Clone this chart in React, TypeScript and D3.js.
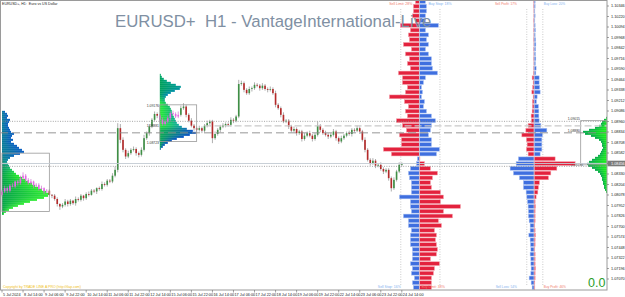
import React from "react";
import * as d3 from "d3";

// ---------------- data ----------------
const pip = 0.0001;
const firstOpen = 1.0808;
// 2-hour bars, 5 Jul 2024 -> 24 Jul 2024
const closes = [
  1.0812, 1.0816, 1.0813, 1.0819, 1.0818, 1.0824, 1.0822, 1.0828, 1.0831, 1.0826,
  1.0822, 1.0824, 1.0819, 1.082, 1.0815, 1.0816, 1.0812, 1.0813, 1.0808, 1.0807,
  1.0803, 1.0797, 1.0794, 1.0796, 1.08, 1.0797, 1.0801, 1.0798, 1.0803, 1.0802,
  1.0807, 1.0804, 1.0809, 1.0808, 1.0813, 1.0812, 1.0816, 1.0815, 1.0821, 1.082,
  1.0825, 1.0824, 1.0831, 1.0838, 1.0888, 1.0874, 1.0862, 1.0854, 1.0858, 1.0862,
  1.0863, 1.0858, 1.0856, 1.0862, 1.0876, 1.0882, 1.089, 1.0898, 1.0905, 1.0903,
  1.0898, 1.0893, 1.0896, 1.09, 1.0906, 1.0905, 1.0902, 1.0904, 1.0912, 1.0914,
  1.0904, 1.0897, 1.0891, 1.0888, 1.0886, 1.0888, 1.0885, 1.0891, 1.0894, 1.0896,
  1.0876, 1.0881, 1.0886, 1.089, 1.0891, 1.0893, 1.0892, 1.0898, 1.0897, 1.0902,
  1.0941, 1.0942, 1.0934, 1.093, 1.0935, 1.0936, 1.094, 1.0939, 1.0936, 1.0939,
  1.0935, 1.0934, 1.0935, 1.093, 1.0916, 1.0912, 1.0904, 1.0896, 1.0897, 1.089,
  1.0885, 1.0887, 1.0882, 1.0884, 1.0875, 1.0879, 1.0882, 1.0879, 1.0875, 1.088,
  1.0891, 1.0886, 1.0882, 1.088, 1.0878, 1.088, 1.0884, 1.0876, 1.0872, 1.0876,
  1.0879, 1.0882, 1.0881, 1.0886, 1.0885, 1.0888, 1.0884, 1.0874, 1.0862, 1.085,
  1.0846, 1.0849, 1.0843, 1.0844, 1.0839, 1.0836, 1.0838, 1.0828, 1.0816, 1.0826,
  1.0836, 1.0844, 1.0845,
];
const wickUp = [
  2, 3, 2, 2, 3, 1, 2, 3, 4, 2, 2, 3, 1, 2, 2, 3, 1, 2, 2, 1,
  2, 2, 1, 2, 3, 2, 2, 1, 3, 2, 2, 1, 2, 3, 2, 2, 1, 2, 3, 2,
  2, 2, 3, 4, 6, 5, 3, 2, 3, 2, 3, 2, 2, 3, 4, 2, 3, 2, 3, 2,
  2, 3, 2, 3, 2, 3, 2, 4, 3, 4, 2, 2, 3, 2, 2, 3, 2, 2, 3, 2,
  2, 3, 2, 2, 3, 2, 2, 3, 2, 2, 5, 3, 2, 2, 3, 2, 3, 2, 2, 3,
  2, 2, 3, 2, 3, 2, 2, 3, 2, 2, 2, 3, 2, 2, 2, 3, 2, 3, 2, 2,
  5, 2, 2, 3, 2, 2, 3, 2, 2, 3, 2, 2, 3, 2, 2, 3, 2, 2, 3, 2,
  2, 3, 2, 2, 3, 2, 2, 2, 2, 3, 2, 3, 2,
];
const wickDown = [
  2, 2, 3, 2, 1, 2, 3, 2, 2, 3, 2, 2, 3, 2, 2, 1, 3, 2, 2, 3,
  2, 3, 4, 2, 2, 3, 2, 2, 3, 2, 2, 3, 2, 2, 1, 2, 3, 2, 2, 2,
  2, 2, 2, 2, 3, 4, 3, 3, 2, 2, 2, 3, 3, 2, 2, 2, 3, 2, 2, 3,
  3, 2, 2, 2, 3, 2, 2, 2, 2, 2, 3, 2, 2, 3, 2, 2, 3, 2, 2, 2,
  6, 2, 2, 3, 2, 2, 2, 2, 3, 2, 2, 2, 3, 2, 2, 3, 2, 2, 3, 2,
  2, 3, 2, 2, 3, 2, 3, 2, 2, 3, 2, 2, 3, 2, 3, 2, 2, 2, 3, 2,
  2, 3, 2, 2, 3, 2, 2, 3, 3, 2, 2, 2, 2, 3, 2, 2, 3, 2, 3, 2,
  3, 2, 3, 2, 2, 3, 2, 3, 4, 2, 2, 2, 2,
];

const timeLabels = [
  "5 Jul 2024", "8 Jul 14:00", "9 Jul 06:00", "9 Jul 22:00", "10 Jul 14:00",
  "11 Jul 06:00", "11 Jul 22:00", "12 Jul 14:00", "15 Jul 06:00", "15 Jul 22:00",
  "16 Jul 14:00", "17 Jul 06:00", "17 Jul 22:00", "18 Jul 14:00", "19 Jul 06:00",
  "19 Jul 22:00", "22 Jul 14:00", "23 Jul 06:00", "23 Jul 22:00", "24 Jul 14:00",
];
const barsPerLabel = 8;

const priceTicks = [
  1.10346, 1.1022, 1.10094, 1.09968, 1.09842, 1.09716, 1.0959, 1.09464, 1.09338,
  1.09212, 1.09086, 1.0896, 1.08834, 1.08708, 1.08582, 1.08456, 1.0833, 1.08204,
  1.08078, 1.07952, 1.07826, 1.077, 1.07574, 1.07448, 1.07322, 1.07196, 1.0707,
];
const currentPrice = 1.08456;
const dottedLevels = [1.08962, 1.08422];
const dashedLevels = [1.08824];
const lightDashedLevels = [1.08908];

// session profiles (row volumes)
const profileRowStep = 0.00024;
const aTop = 1.09076;
const aVol = [3, 5, 6, 5, 8, 7, 6, 6, 7, 8, 9, 12, 10, 9, 11, 9, 12, 15, 17, 20, 22, 18, 12, 8, 6, 5, 6, 7, 8, 10,
  12, 14, 17, 20, 24, 27, 30, 33, 36, 40, 44, 48, 46, 42, 35, 28, 22, 16, 11, 7, 4, 2];
const bTop = 1.0952;
const bVol = [1, 2, 4, 7, 11, 16, 21, 20, 15, 11, 8, 6, 5, 5, 6, 8, 10, 11, 12, 12, 13, 14, 15, 16, 17, 19, 22, 27,
  33, 36, 30, 24, 17, 12, 8, 5, 3, 1];
const cTop = 1.09004;
const cVol = [1, 3, 5, 6, 8, 12, 18, 24, 22, 16, 12, 8, 6, 5, 5, 4, 5, 6, 7, 9, 12, 15, 18, 20, 19, 15, 12, 9, 7, 6,
  5, 5, 4, 4, 3, 3, 2, 1];

// order-book style profiles
const bookTop = 1.104;
const bookStep = 0.000572;
const bookSplit = 33;
const dLeft = [4, 6, 6, 7, 4, 19, 9, 11, 10, 16, 8, 14, 10, 12, 9, 21, 17, 17, 12, 14, 30, 15, 11, 14, 12, 23, 17, 13,
  20, 18, 18, 36, 28,
  2, 3, 9, 11, 10, 8, 8, 8, 20, 9, 9, 8, 16, 11, 11, 8, 9, 9, 9, 7, 7, 7, 9, 7, 8, 5, 7, 6];
const dRight = [6, 7, 7, 6, 6, 19, 6, 9, 7, 9, 6, 9, 12, 12, 13, 18, 6, 4, 2, 3, 2, 5, 4, 7, 12, 16, 12, 11, 9, 12, 12,
  20, 17,
  0.5, 5, 11, 18, 13, 11, 12, 21, 24, 21, 41, 24, 33, 19, 22, 15, 17, 16, 17, 18, 17, 11, 20, 15, 14, 12, 12, 12];
const eLeft = [0.5, 0.5, 0.3, 0.3, 0.5, 0.3, 0.5, 0.3, 0.5, 0.3, 0.5, 0.3, 0.5, 0.3, 0.5, 0.7, 2, 1, 1.5, 2.3, 1, 1.7,
  1.7, 2, 3, 2.7, 6, 8.3, 12.3, 7.7, 7, 7.7, 6,
  15.7, 18, 24, 20.7, 14.7, 10.7, 10.7, 8, 7.3, 6.7, 6, 5.7, 5.7, 5, 4, 4, 5.3, 4, 3.7, 3.3, 4, 3.3, 3.3, 3, 3.3, 5,
  3, 2];
const eRight = [1, 1, 0.7, 1, 0.7, 1, 1.3, 1, 1.5, 1.7, 1.5, 1.3, 1.7, 1.3, 2, 1.7, 5, 5, 5.5, 6, 3, 2.3, 4.3, 4.7,
  4.7, 5, 6.7, 12.7, 8.3, 7.7, 7.7, 7.7, 6,
  21, 41, 22.7, 16.7, 14.3, 5.3, 4.3, 3.7, 2, 1, 1.3, 1, 1, 1, 0.7, 1, 1.3, 1, 1, 0.7, 1, 1, 1, 1.3, 1, 1, 0.7, 0.7];

const dTexts = ["Sell Limit: 28%", "Buy Stop: 18%", "Sell Stop: 16%", "Buy Limit: 38%"];
const eTexts = ["Sell Profit: 17%", "Buy Loss: 20%", "Sell Loss: 54%", "Buy Profit: 46%"];

// ---------------- component ----------------
export default function App() {
  const X = d3.scaleLinear().domain([0, 230]).range([2, 607]);
  const Y = d3.scaleLinear().domain([priceTicks[0], priceTicks[priceTicks.length - 1]]).range([6, 279]);
  const V = d3.scaleLinear().domain([0, 10]).range([0, 10]);
  const font = '"Liberation Sans", Arial, sans-serif';
  const RIGHT = X(230);
  const BOTTOM = 290;

  const candles = closes.map((c, i) => {
    const o = i === 0 ? firstOpen : closes[i - 1];
    return { i, o, c, h: Math.max(o, c) + wickUp[i] * pip, l: Math.min(o, c) - wickDown[i] * pip };
  });

  const aBox = { from: 0, to: 18, hi: 1.0858, lo: 1.0788 };
  const bBox = { from: 60, to: 74, hi: 1.0916, lo: 1.0872 };
  const cBox = { from: 220, to: 230, hi: 1.0897, lo: 1.0844 };

  const aBase = d3.scaleLinear<string>().domain([1.0908, 1.0856, 1.0846, 1.0831, 1.0786])
    .range(["#0a7f96", "#0a7f96", "#0a9070", "#03a248", "#03a248"]).clamp(true);
  const aTip = d3.scaleLinear<string>().domain([1.0908, 1.0856, 1.0846, 1.0831, 1.0786])
    .range(["#0b5fc4", "#0b5fc4", "#10a090", "#26ee2a", "#40f040"]).clamp(true);
  const bBase = d3.scaleLinear<string>().domain([1.0952, 1.0928, 1.0918, 1.0891, 1.0885, 1.0862])
    .range(["#00a050", "#00a060", "#28e838", "#28f030", "#10b050", "#00a050"]).clamp(true);
  const bTip = d3.scaleLinear<string>().domain([1.0952, 1.0928, 1.0918, 1.0891, 1.0885, 1.0862])
    .range(["#00b070", "#0088b8", "#10c060", "#10a8a0", "#0a52c8", "#0a52c8"]).clamp(true);

  const RED = "#e3223d", RED_EDGE = "#f4a3ad", BLUE = "#3f6fdf", BLUE_EDGE = "#a9c1f3";

  const sessionRows = (vol: number[], top: number, startBar: number, base: any, tip: any, id: string) =>
    vol.map((v, i) => {
      const p = top - i * profileRowStep;
      return { id: `${id}${i}`, x: X(startBar), y: Y(p) - 1, w: V(v), b: base(p), t: tip(p) };
    });
  const aRows = sessionRows(aVol, aTop, 0, aBase, aTip, "ga");
  const bRows = sessionRows(bVol, bTop, 60, bBase, bTip, "gb");

  const bookRows = (left: number[], right: number[], centerBar: number) =>
    left.map((lv, k) => {
      const p = bookTop - k * bookStep;
      const upper = k < bookSplit;
      return {
        k, y: Y(p) - 1.9, cx: X(centerBar), lw: V(lv), rw: V(right[k]),
        lf: upper ? RED : BLUE, ls: upper ? RED_EDGE : BLUE_EDGE,
        rf: upper ? BLUE : RED, rs: upper ? BLUE_EDGE : RED_EDGE,
      };
    });
  const dRows = bookRows(dLeft, dRight, 158.7);
  const eRows = bookRows(eLeft, eRight, 202.3);

  const inPink = (i: number) => (i >= 0 && i <= 17) || (i >= 60 && i <= 67);

  const box = (bx: any, key: string) => (
    <rect key={key} x={X(bx.from)} y={Y(bx.hi)} width={X(bx.to) - X(bx.from)} height={Y(bx.lo) - Y(bx.hi)}
      fill="none" stroke="#9a9a9a" strokeWidth={0.8} />
  );

  const bw = (X(1) - X(0)) * 0.62;

  return (
    <svg width={625} height={297} style={{ position: "absolute", left: 0, top: 0 }} fontFamily={font}>
      <defs>
        {[...aRows, ...bRows].map((r) => (
          <linearGradient key={r.id} id={r.id} x1="0" x2="1" y1="0" y2="0">
            <stop offset="0" stopColor={r.b} />
            <stop offset="1" stopColor={r.t} />
          </linearGradient>
        ))}
        <linearGradient id="gc" x1="0" x2="1" y1="0" y2="0">
          <stop offset="0" stopColor="#08a84e" />
          <stop offset="1" stopColor="#1af21a" />
        </linearGradient>
      </defs>
      <rect x={0} y={0} width={625} height={297} fill="#ffffff" />

      {/* session profiles */}
      {[...aRows, ...bRows].map((r) => (
        <rect key={"r" + r.id} x={r.x} y={r.y} width={r.w} height={2.05} fill={`url(#${r.id})`} />
      ))}

      {/* candles */}
      {candles.map((d) => {
        const cx = X(d.i);
        const pink = inPink(d.i);
        const bull = d.c >= d.o;
        const top = Y(Math.max(d.o, d.c));
        const hgt = Math.max(0.7, Y(Math.min(d.o, d.c)) - top);
        return (
          <g key={"c" + d.i}>
            <line x1={cx} x2={cx} y1={Y(d.h)} y2={Y(d.l)} stroke={pink ? "#d070d0" : "#8c8c8c"} strokeWidth={0.7} />
            <rect x={cx - bw / 2} y={top} width={bw} height={hgt}
              fill={pink ? "#e46ae4" : bull ? "#3f8f45" : "#b42a2a"} />
          </g>
        );
      })}

      {box(aBox, "ba")}
      {box(bBox, "bb")}
      <text x={159} y={106.5} fontSize={3.4} textAnchor="end" fill="#333">1.09176</text>
      <text x={159} y={127} fontSize={3.4} textAnchor="end" fill="#333">1.08881</text>
      <text x={159} y={143.5} fontSize={3.4} textAnchor="end" fill="#333">1.08723</text>

      {/* order book profiles */}
      {[151.6, 166.5, 199.5, 205.6].map((b) => (
        <line key={"v" + b} x1={X(b)} x2={X(b)} y1={9} y2={285} stroke="#b5b5b5" strokeWidth={0.7} strokeDasharray="1,1.5" />
      ))}
      {[...dRows.map((r) => ({ ...r, id: "d" })), ...eRows.map((r) => ({ ...r, id: "e" }))].map((r) => (
        <g key={r.id + r.k}>
          {r.lw > 0 && <rect x={r.cx - r.lw} y={r.y} width={r.lw} height={3.8} fill={r.lf} stroke={r.ls} strokeWidth={0.5} />}
          {r.rw > 0 && <rect x={r.cx} y={r.y} width={r.rw} height={3.8} fill={r.rf} stroke={r.rs} strokeWidth={0.5} />}
        </g>
      ))}
      <line x1={X(158.7)} x2={X(158.7)} y1={1} y2={289} stroke="#d8d8d8" strokeWidth={0.5} />
      <line x1={X(202.3)} x2={X(202.3)} y1={1} y2={289} stroke="#d8d8d8" strokeWidth={0.5} />

      {/* right session profile */}
      {cVol.map((v, i) => {
        const p = cTop - i * profileRowStep;
        return <rect key={"cv" + i} x={RIGHT - V(v)} y={Y(p) - 1} width={V(v)} height={2.05} fill="url(#gc)" />;
      })}
      {box(cBox, "bc")}
      <text x={580} y={120} fontSize={3.4} textAnchor="end" fill="#333">1.09015</text>
      <text x={580} y={132} fontSize={3.4} textAnchor="end" fill="#333">1.08880</text>
      <text x={583} y={166} fontSize={3.4} textAnchor="end" fill="#555">1.08484</text>

      {/* horizontal levels */}
      {dottedLevels.map((p) => (
        <line key={"dl" + p} x1={0} x2={RIGHT} y1={Y(p)} y2={Y(p)} stroke="#8e8e8e" strokeWidth={0.8} strokeDasharray="1,1.4" />
      ))}
      {lightDashedLevels.map((p) => (
        <line key={"ll" + p} x1={X(77)} x2={RIGHT} y1={Y(p)} y2={Y(p)} stroke="#c9c9c9" strokeWidth={1.2} strokeDasharray="7,3" />
      ))}
      {dashedLevels.map((p) => (
        <line key={"dd" + p} x1={0} x2={RIGHT} y1={Y(p)} y2={Y(p)} stroke="#8a8a8a" strokeWidth={0.9} strokeDasharray="8,4" />
      ))}
      <line x1={0} x2={RIGHT} y1={Y(currentPrice)} y2={Y(currentPrice)} stroke="#c3cbd3" strokeWidth={0.9} />

      {/* texts */}
      <text x={115} y={27} fontSize={16.8} fill="#8090a3" style={{ whiteSpace: "pre" }}>{"EURUSD+  H1 - VantageInternational-Live"}</text>
      <text x={2} y={5} fontSize={3.6} fill="#222" style={{ whiteSpace: "pre" }}>{"EURUSD+, H1:  Euro vs US Dollar"}</text>
      <text x={3} y={287.5} fontSize={3.5} fill="#f0c020">Copyright by TRADE LINE A PRO (http://tlap.com)</text>

      <text x={X(151.6)} y={5} fontSize={3.5} textAnchor="middle" fill="#f07a6a">{dTexts[0]}</text>
      <text x={X(166.5)} y={5} fontSize={3.5} textAnchor="middle" fill="#7fb0ee">{dTexts[1]}</text>
      <text x={X(151.6)} y={288} fontSize={3.5} textAnchor="end" fill="#7fb0ee">{dTexts[2]}</text>
      <text x={X(158.7) + 2} y={288} fontSize={3.5} fill="#f07a6a">{dTexts[3]}</text>
      <text x={X(199.5) - 10} y={5} fontSize={3.2} textAnchor="end" fill="#f07a6a">{eTexts[0]}</text>
      <text x={X(205.6) + 1} y={5} fontSize={3.2} fill="#7fb0ee">{eTexts[1]}</text>
      <text x={X(199.5) - 10} y={288} fontSize={3.2} textAnchor="end" fill="#7fb0ee">{eTexts[2]}</text>
      <text x={X(205.6) + 1} y={288} fontSize={3.2} fill="#f07a6a">{eTexts[3]}</text>

      <text x={588} y={287} fontSize={12.5} fill="#2a9d2a">0.0</text>

      {/* frame & axes */}
      <rect x={0.5} y={0.5} width={RIGHT - 0.5} height={BOTTOM - 0.5} fill="none" stroke="#9a9a9a" strokeWidth={1} />
      {priceTicks.map((p) => (
        <g key={"pt" + p}>
          <line x1={RIGHT} x2={RIGHT + 2} y1={Y(p)} y2={Y(p)} stroke="#666" strokeWidth={0.6} />
          <text x={RIGHT + 4} y={Y(p) + 1.4} fontSize={3.8} fill="#222">{p.toFixed(5)}</text>
        </g>
      ))}
      <rect x={RIGHT + 0.5} y={Y(currentPrice) - 2.8} width={17.5} height={5.6} fill="#7a7a7a" />
      <text x={RIGHT + 4} y={Y(currentPrice) + 1.4} fontSize={3.8} fill="#fff">{currentPrice.toFixed(5)}</text>
      {timeLabels.map((t, i) => (
        <g key={"tl" + i}>
          <line x1={X(i * barsPerLabel)} x2={X(i * barsPerLabel)} y1={BOTTOM} y2={BOTTOM + 2.5} stroke="#666" strokeWidth={0.6} />
          <text x={X(i * barsPerLabel) + 1} y={295.5} fontSize={3.8} fill="#222">{t}</text>
        </g>
      ))}
    </svg>
  );
}
